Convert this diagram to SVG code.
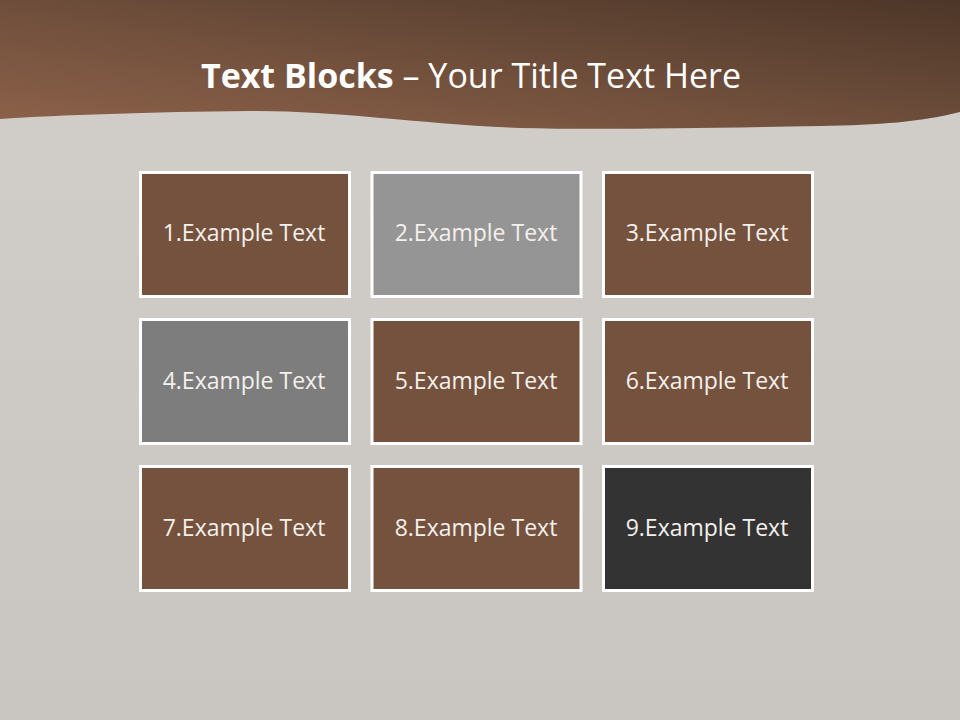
<svg xmlns="http://www.w3.org/2000/svg" width="960" height="720" viewBox="0 0 960 720">
<defs>
<linearGradient id="bg" x1="0" y1="0" x2="0" y2="1">
<stop offset="0" stop-color="#d2cfcb"/>
<stop offset="1" stop-color="#c9c6c2"/>
</linearGradient>
<linearGradient id="hdr" x1="0" y1="1" x2="1" y2="0">
<stop offset="0" stop-color="#8e624a"/>
<stop offset="0.5" stop-color="#6e4e3b"/>
<stop offset="1" stop-color="#4d3628"/>
</linearGradient>
<style>
.box rect{stroke:#ffffff;stroke-width:3}
.brown{fill:#74523e}
.lgray{fill:#959595}
.mgray{fill:#7d7d7d}
.dark{fill:#333333}
.lbl{font-family:"Open Sans","Liberation Sans",sans-serif;font-size:23px;fill:#f4f0ec;text-anchor:middle}
.title{font-family:"Open Sans","Liberation Sans",sans-serif;font-size:34px;fill:#ffffff;text-anchor:middle}
</style>
</defs>
<rect width="960" height="720" fill="url(#bg)"/>
<path d="M0,0 H960 V112 C920,122 880,125 820,126 C700,128 600,130 520,128 C420,124 330,110 250,111 C150,112 60,115 0,119 Z" fill="url(#hdr)"/>
<text class="title" x="471" y="88"><tspan font-weight="bold">Text Blocks</tspan> – Your Title Text Here</text>
<g id="node1" class="box"><rect class="brown" x="140.5" y="172.5" width="209" height="124"/><text class="lbl" x="244" y="241">1.Example Text</text></g>
<g id="node2" class="box"><rect class="lgray" x="372" y="172.5" width="209" height="124"/><text class="lbl" x="476" y="241">2.Example Text</text></g>
<g id="node3" class="box"><rect class="brown" x="603.5" y="172.5" width="209" height="124"/><text class="lbl" x="707" y="241">3.Example Text</text></g>
<g id="node4" class="box"><rect class="mgray" x="140.5" y="319.5" width="209" height="124"/><text class="lbl" x="244" y="389">4.Example Text</text></g>
<g id="node5" class="box"><rect class="brown" x="372" y="319.5" width="209" height="124"/><text class="lbl" x="476" y="389">5.Example Text</text></g>
<g id="node6" class="box"><rect class="brown" x="603.5" y="319.5" width="209" height="124"/><text class="lbl" x="707" y="389">6.Example Text</text></g>
<g id="node7" class="box"><rect class="brown" x="140.5" y="466.5" width="209" height="124"/><text class="lbl" x="244" y="536">7.Example Text</text></g>
<g id="node8" class="box"><rect class="brown" x="372" y="466.5" width="209" height="124"/><text class="lbl" x="476" y="536">8.Example Text</text></g>
<g id="node9" class="box"><rect class="dark" x="603.5" y="466.5" width="209" height="124"/><text class="lbl" x="707" y="536">9.Example Text</text></g>
<g id="connectors"/>
</svg>
